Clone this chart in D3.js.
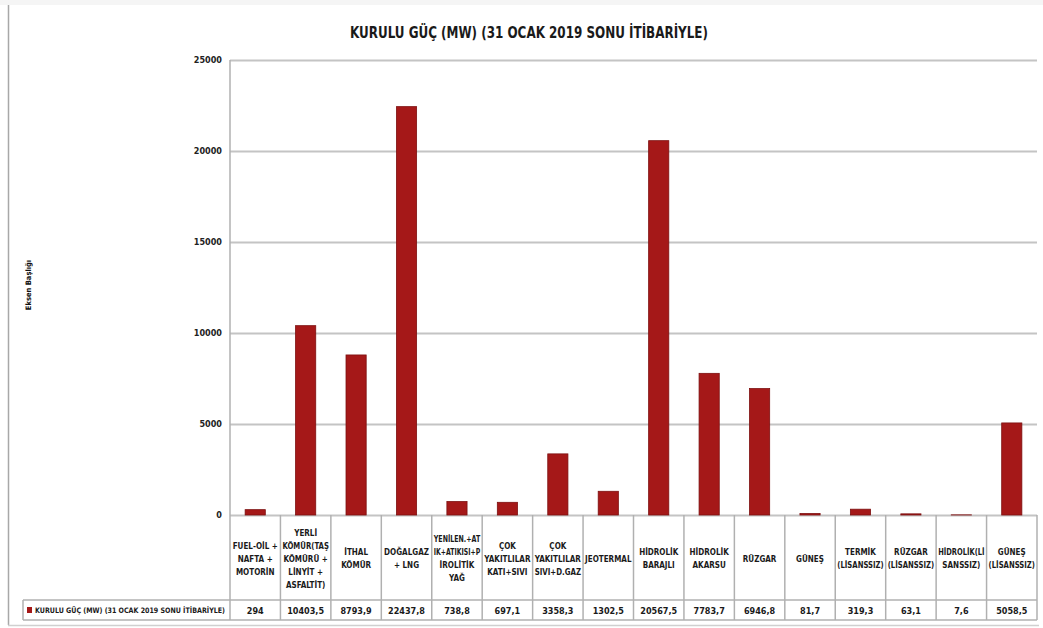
<!DOCTYPE html>
<html lang="tr">
<head>
<meta charset="utf-8">
<title>Kurulu Güç (MW)</title>
<script src="https://cdn.jsdelivr.net/npm/d3@7"></script>
<style>
  html, body { margin: 0; padding: 0; background: #fff; }
  svg { display: block; font-family: "Liberation Sans Narrow", "DejaVu Sans Condensed", "Arial Narrow", sans-serif; }
</style>
</head>
<body>
<svg id="chart" width="1043" height="628"></svg>
<script>
// Installed capacity per source type, MW
const categories = [
  ["FUEL-OİL +", "NAFTA +", "MOTORİN"],
  ["YERLİ", "KÖMÜR(TAŞ", "KÖMÜRÜ +", "LİNYİT +", "ASFALTİT)"],
  ["İTHAL", "KÖMÜR"],
  ["DOĞALGAZ", "+ LNG"],
  ["YENİLEN.+AT", "IK+ATIKISI+P", "İROLİTİK", "YAĞ"],
  ["ÇOK", "YAKITLILAR", "KATI+SIVI"],
  ["ÇOK", "YAKITLILAR", "SIVI+D.GAZ"],
  ["JEOTERMAL"],
  ["HİDROLİK", "BARAJLI"],
  ["HİDROLİK", "AKARSU"],
  ["RÜZGAR"],
  ["GÜNEŞ"],
  ["TERMİK", "(LİSANSSIZ)"],
  ["RÜZGAR", "(LİSANSSIZ)"],
  ["HİDROLİK(Lİ", "SANSSIZ)"],
  ["GÜNEŞ", "(LİSANSSIZ)"]
];
const values = [294, 10403.5, 8793.9, 22437.8, 738.8, 697.1, 3358.3, 1302.5,
                20567.5, 7783.7, 6946.8, 81.7, 319.3, 63.1, 7.6, 5058.5];
const yTicks = [0, 5000, 10000, 15000, 20000, 25000];
const seriesName = "KURULU GÜÇ (MW) (31 OCAK 2019 SONU İTİBARİYLE)";
const chartTitle = "KURULU GÜÇ (MW) (31 OCAK 2019 SONU İTİBARİYLE)";
const axisTitle = "Eksen Başlığı";

const svg = d3.select("#chart");
const W = 1043, H = 628;
const plot = { left: 230, right: 1037, top: 60, bottom: 515 };
const table = { catBottom: 600, valBottom: 620, legendLeft: 23 };
const barColor = "#a51818", barStroke = "#7d1010", gridColor = "#c4c4c4", lineColor = "#b0b0b0";

// Outer frame
svg.append("rect").attr("x", 0).attr("y", 0).attr("width", W).attr("height", 5).attr("fill", "#f5f5f5");
svg.append("line").attr("x1", 8.5).attr("x2", 8.5).attr("y1", 5).attr("y2", 625)
  .attr("stroke", "#a8a8a8").attr("stroke-width", 1.5);
svg.append("line").attr("x1", 8).attr("x2", W - 4).attr("y1", 625.5).attr("y2", 625.5)
  .attr("stroke", "#d0d0d0").attr("stroke-width", 1.5);

// Scales
const x = d3.scaleBand()
  .domain(d3.range(categories.length))
  .range([plot.left, plot.right])
  .paddingInner(0.6)
  .paddingOuter(0.3);
const step = x.step();
const cellLeft = i => x(i) - step * 0.3;

const y = d3.scaleLinear().domain([0, 25000]).range([plot.bottom, plot.top]);

// Title
svg.append("text")
  .attr("x", 529).attr("y", 38)
  .attr("text-anchor", "middle")
  .attr("font-size", 16).attr("font-weight", "bold")
  .attr("fill", "#1a1a1a")
  .attr("textLength", 358).attr("lengthAdjust", "spacingAndGlyphs")
  .text(chartTitle);

// Gridlines and y axis
const yAxis = d3.axisLeft(y).tickValues(yTicks).tickSize(-(plot.right - plot.left)).tickPadding(8).tickFormat(d3.format("d"));
const gy = svg.append("g").attr("transform", `translate(${plot.left},0)`).call(yAxis);
gy.select(".domain").remove();
gy.selectAll(".tick line").attr("stroke", gridColor).attr("stroke-width", 2);
gy.selectAll(".tick text").attr("font-size", 9).attr("font-weight", "bold").attr("fill", "#222")
  .attr("font-family", "'Liberation Sans Narrow', 'DejaVu Sans Condensed', sans-serif");

// Vertical axis line running through the data table
svg.append("line").attr("x1", plot.left).attr("x2", plot.left).attr("y1", plot.top).attr("y2", table.valBottom)
  .attr("stroke", lineColor).attr("stroke-width", 1.5);

// Axis title
svg.append("text")
  .attr("transform", "translate(31,285) rotate(-90)")
  .attr("text-anchor", "middle")
  .attr("font-size", 7.5).attr("font-weight", "bold").attr("fill", "#111")
  .text(axisTitle);

// Bars
svg.append("g").selectAll("rect").data(values).join("rect")
  .attr("x", (d, i) => x(i))
  .attr("y", d => y(d))
  .attr("width", x.bandwidth())
  .attr("height", d => Math.max(0, y(0) - y(d)))
  .attr("fill", barColor)
  .attr("stroke", barStroke).attr("stroke-width", 0.8);

// Data table: grid lines
const tg = svg.append("g");
tg.append("line").attr("x1", table.legendLeft).attr("x2", plot.right).attr("y1", table.catBottom).attr("y2", table.catBottom)
  .attr("stroke", lineColor).attr("stroke-width", 1.5);
tg.append("line").attr("x1", table.legendLeft).attr("x2", plot.right).attr("y1", table.valBottom).attr("y2", table.valBottom)
  .attr("stroke", lineColor).attr("stroke-width", 1.5);
tg.append("line").attr("x1", table.legendLeft).attr("x2", table.legendLeft).attr("y1", table.catBottom).attr("y2", table.valBottom)
  .attr("stroke", lineColor).attr("stroke-width", 1.5);
tg.selectAll("line.sep").data(d3.range(1, categories.length + 1)).join("line")
  .attr("class", "sep")
  .attr("x1", i => i < categories.length ? cellLeft(i) : plot.right)
  .attr("x2", i => i < categories.length ? cellLeft(i) : plot.right)
  .attr("y1", plot.bottom).attr("y2", table.valBottom)
  .attr("stroke", lineColor).attr("stroke-width", 1.5);

// Category labels
const lineH = 13;
const catMid = (plot.bottom + table.catBottom) / 2 + 1;
svg.append("g").selectAll("text").data(categories).join("text")
  .attr("text-anchor", "middle")
  .attr("font-size", 8).attr("font-weight", 600).attr("fill", "#1a1a1a")
  .each(function (lines, i) {
    const t = d3.select(this);
    const cx = x(i) + x.bandwidth() / 2;
    const y0 = catMid - (lines.length - 1) * lineH / 2 + 3;
    lines.forEach((l, k) => {
      const s = t.append("tspan").attr("x", cx).attr("y", y0 + k * lineH).text(l);
      // keep long lines inside their cell
      if (s.node().getComputedTextLength() > step - 4) {
        s.attr("textLength", step - 4).attr("lengthAdjust", "spacingAndGlyphs");
      }
    });
  });

// Values row
const fmt = v => String(v).replace(".", ",");
svg.append("g").selectAll("text").data(values).join("text")
  .attr("x", (d, i) => x(i) + x.bandwidth() / 2)
  .attr("y", (table.catBottom + table.valBottom) / 2 + 3.5)
  .attr("text-anchor", "middle")
  .attr("font-size", 9).attr("font-weight", 600).attr("fill", "#1a1a1a")
  .text(fmt);

// Legend cell
svg.append("rect")
  .attr("x", 27).attr("y", 607).attr("width", 5).attr("height", 6)
  .attr("fill", barColor);
svg.append("text")
  .attr("x", 35).attr("y", 613)
  .attr("font-size", 7.5).attr("font-weight", 600).attr("fill", "#1a1a1a")
  .attr("textLength", 190).attr("lengthAdjust", "spacingAndGlyphs")
  .text(seriesName);
</script>
</body>
</html>
